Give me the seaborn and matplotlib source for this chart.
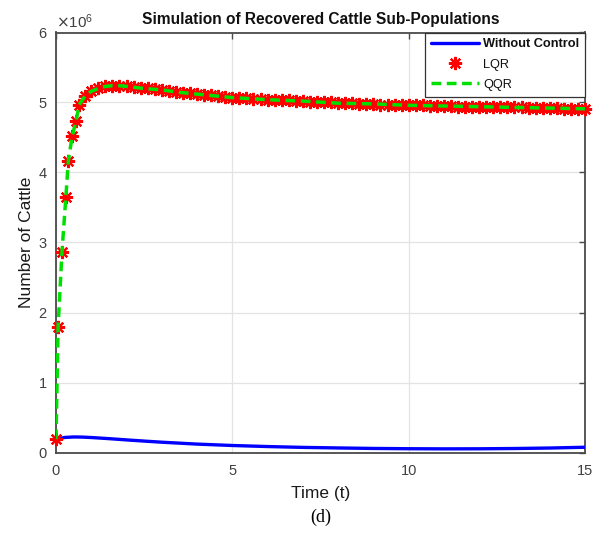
import numpy as np
import pandas as pd
import matplotlib
matplotlib.use("Agg")
import matplotlib.pyplot as plt
import seaborn as sns

# ---- data (values in millions of cattle) ----
lqr_t = [0.0, 0.06, 0.17, 0.28, 0.35, 0.46, 0.57, 0.66, 0.82,
         1.0, 1.2, 1.4, 1.6, 1.8, 2.0, 2.2, 2.4, 2.6, 2.8, 3.0, 3.2, 3.4, 3.6, 3.8,
         4.0, 4.2, 4.4, 4.6, 4.8, 5.0, 5.2, 5.4, 5.6, 5.8, 6.0, 6.2, 6.4, 6.6, 6.8,
         7.0, 7.2, 7.4, 7.6, 7.8, 8.0, 8.2, 8.4, 8.6, 8.8, 9.0, 9.2, 9.4, 9.6, 9.8,
         10.0, 10.2, 10.4, 10.6, 10.8, 11.0, 11.2, 11.4, 11.6, 11.8, 12.0, 12.2, 12.4,
         12.6, 12.8, 13.0, 13.2, 13.4, 13.6, 13.8, 14.0, 14.2, 14.4, 14.6, 14.8, 15.0]
lqr_y = [0.19, 1.80, 2.87, 3.65, 4.17, 4.52, 4.74, 4.97, 5.09,
         5.16, 5.20, 5.23, 5.24, 5.24, 5.23, 5.22, 5.21, 5.20, 5.19, 5.18, 5.16, 5.15, 5.14, 5.13,
         5.12, 5.11, 5.10, 5.09, 5.08, 5.07, 5.06, 5.06, 5.05, 5.05, 5.04, 5.04, 5.03, 5.03, 5.02,
         5.02, 5.01, 5.01, 5.00, 5.00, 4.99, 4.99, 4.99, 4.98, 4.98, 4.98, 4.97, 4.97, 4.97, 4.96,
         4.96, 4.96, 4.96, 4.95, 4.95, 4.95, 4.95, 4.94, 4.94, 4.94, 4.94, 4.94, 4.93,
         4.93, 4.93, 4.93, 4.93, 4.92, 4.92, 4.92, 4.92, 4.92, 4.91, 4.91, 4.91, 4.91]

qqr_t = [0.0, 0.06, 0.17, 0.28, 0.35, 0.46, 0.57, 0.66, 0.82, 1.0, 1.2, 1.4, 1.6,
         1.8, 2.0, 2.5, 3.0, 3.5, 4.0, 4.5, 5.0, 6.0, 7.0, 8.0, 9.0, 10.0, 11.0,
         12.0, 13.0, 14.0, 15.0]
qqr_y = [0.19, 1.80, 2.87, 3.65, 4.17, 4.52, 4.74, 4.97, 5.09, 5.16, 5.20, 5.23, 5.24,
         5.24, 5.23, 5.20, 5.18, 5.145, 5.12, 5.095, 5.07, 5.04, 5.02, 4.99, 4.98, 4.96, 4.95,
         4.94, 4.93, 4.92, 4.91]

noctrl_t = [0.0, 0.25, 0.5, 0.75, 1.0, 1.5, 2.0, 2.5, 3.0, 4.0, 5.0, 6.0, 7.0,
            8.0, 9.0, 10.0, 11.0, 12.0, 13.0, 14.0, 15.0]
noctrl_y = [0.19, 0.215, 0.222, 0.22, 0.214, 0.198, 0.18, 0.163, 0.147, 0.12, 0.10,
            0.085, 0.073, 0.065, 0.058, 0.054, 0.052, 0.053, 0.057, 0.064, 0.075]

x_ticks = [0, 5, 10, 15]
y_ticks = [0, 1, 2, 3, 4, 5, 6]

labels = ["Without Control", "LQR", "QQR"]

# ---- frames ----
df_nc = pd.DataFrame({"t": noctrl_t, "y": np.array(noctrl_y) * 1e6})
df_lqr = pd.DataFrame({"t": lqr_t, "y": np.array(lqr_y) * 1e6})
df_qqr = pd.DataFrame({"t": qqr_t, "y": np.array(qqr_y) * 1e6})

sns.set_theme(style="white")
plt.rcParams["font.family"] = ["Liberation Sans", "DejaVu Sans"]

fig = plt.figure(figsize=(6.05, 5.33), dpi=100)
W, H = 605, 533
L, R, T, B = 56, 585, 32.5, 452.5
ax = fig.add_axes([L / W, 1 - B / H, (R - L) / W, (B - T) / H])

sns.lineplot(data=df_nc, x="t", y="y", ax=ax, color="#0000FF", lw=2.4,
             label=labels[0], zorder=3)
sns.lineplot(data=df_lqr, x="t", y="y", ax=ax, color="#FF0000", linestyle="",
             marker=(8, 2, 0), markersize=9.5, markeredgewidth=1.6,
             markeredgecolor="#FF0000", label=labels[1], zorder=4, clip_on=False)
sns.lineplot(data=df_qqr, x="t", y="y", ax=ax, color="#00E000", lw=2.5,
             label=labels[2], zorder=5)
ax.lines[-1].set_dashes((2.8, 1.6))

ax.set_xlim(0, 15)
ax.set_ylim(0, 6e6)
ax.set_xticks(x_ticks)
ax.set_yticks([v * 1e6 for v in y_ticks])
ax.ticklabel_format(axis="y", style="sci", scilimits=(6, 6), useMathText=True)
ax.yaxis.get_offset_text().set_fontsize(11)
ax.yaxis.get_offset_text().set_color("#404040")

ax.grid(True, color="#e3e3e3", lw=0.9)
ax.set_axisbelow(True)
for s in ax.spines.values():
    s.set_visible(True)
    s.set_color("#4a4a4a")
    s.set_linewidth(1.3)
ax.tick_params(direction="in", length=4, width=1.0, color="#4a4a4a",
               top=True, right=True, labelsize=10.5, labelcolor="#404040")
ax.tick_params(axis="y", pad=6)
ax.tick_params(axis="x", pad=8)

ax.set_xlabel("Time (t)", fontsize=12.5, color="#1a1a1a", labelpad=6)
ax.set_ylabel("Number of Cattle", fontsize=12.5, color="#1a1a1a", labelpad=3)
ax.set_title("Simulation of Recovered Cattle Sub-Populations", fontsize=11.2,
             fontweight="bold", color="#111111", pad=6)

leg = ax.legend(loc="upper right", bbox_to_anchor=(1.0, 1.0), borderaxespad=0,
                fontsize=9.2, handlelength=3.8, handletextpad=0.3,
                borderpad=0.45, labelspacing=0.65, fancybox=False, framealpha=1,
                edgecolor="#333333")
leg.get_frame().set_linewidth(0.9)
leg.get_texts()[0].set_fontweight("bold")
for txt in leg.get_texts():
    txt.set_color("#111111")

fig.text(321 / W, 1 - 517 / H, "(d)", ha="center", va="center", fontsize=13,
         family="Liberation Serif", color="black")

fig.savefig("out.png", dpi=100)
